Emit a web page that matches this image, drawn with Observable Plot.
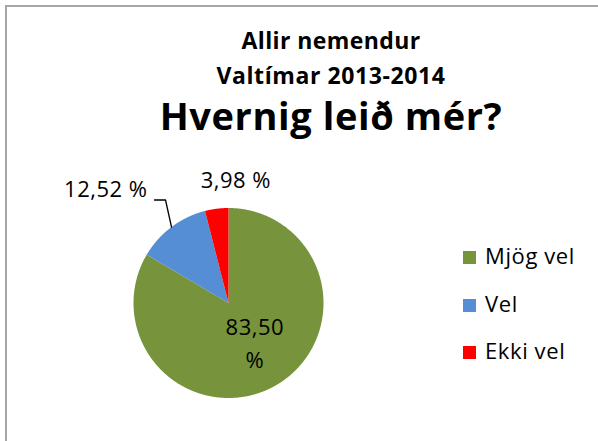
<!DOCTYPE html>
<html><head><meta charset="utf-8">
<script src="https://cdn.jsdelivr.net/npm/d3@7"></script>
<script src="https://cdn.jsdelivr.net/npm/@observablehq/plot@0.6"></script>
<style>
body{margin:0;background:#fff;font-family:"Open Sans",sans-serif;}
#wrap{position:relative;width:598px;height:441px;overflow:hidden;background:#fff;}
#frame{position:absolute;left:5px;top:5px;width:800px;height:800px;border-top:2px solid #a6a6a6;border-left:2px solid #a6a6a6;}
#chart{position:absolute;left:0;top:0;}
.t{position:absolute;left:0;width:662px;text-align:center;font-weight:bold;color:#000;white-space:nowrap;}
#t1{top:26px;font-size:23px;line-height:28px;letter-spacing:0.4px;}
#t2{top:61px;font-size:23px;line-height:28px;letter-spacing:0.6px;}
#t3{top:93px;font-size:38px;line-height:44px;letter-spacing:0.6px;}
#legend{position:absolute;left:463px;top:0;}
.li{position:absolute;left:0;white-space:nowrap;font-size:22px;line-height:24px;color:#000;letter-spacing:0.6px;}
.sw{display:inline-block;width:13px;height:13px;margin-right:9px;vertical-align:0px;}
</style></head>
<body>
<div id="wrap">
  <div id="frame"></div>
  <div id="chart"></div>
  <div class="t" id="t1"></div>
  <div class="t" id="t2"></div>
  <div class="t" id="t3"></div>
  <div id="legend"></div>
</div>
<script>
const titleLines = ["Allir nemendur", "Valtímar 2013-2014", "Hvernig leið mér?"];
const categories = ["Mjög vel", "Vel", "Ekki vel"];
const values = [83.50, 12.52, 3.98];
const labels = ["83,50 %", "12,52 %", "3,98 %"];
const colors = ["#77933C", "#558ED5", "#FF0000"];

document.getElementById("t1").textContent = titleLines[0];
document.getElementById("t2").textContent = titleLines[1];
document.getElementById("t3").textContent = titleLines[2];

// slices, clockwise from 12 o'clock
const total = d3.sum(values);
let acc = 0;
const slices = categories.map((c, i) => {
  const a0 = acc / total * 2 * Math.PI;
  acc += values[i];
  const a1 = acc / total * 2 * Math.PI;
  return {cat: c, a0, a1, mid: (a0 + a1) / 2, label: labels[i]};
});
const pts = [];
for (const s of slices) {
  pts.push({cat: s.cat, x: 0, y: 0});
  const n = Math.max(2, Math.ceil((s.a1 - s.a0) / (Math.PI / 720)));
  for (let k = 0; k <= n; k++) {
    const a = s.a0 + (s.a1 - s.a0) * k / n;
    pts.push({cat: s.cat, x: Math.sin(a), y: Math.cos(a)});
  }
  pts.push({cat: s.cat, x: 0, y: 0});
}
const R = 95; // pixel radius, used to convert label offsets
const edge = s => ({x: Math.sin(s.mid), y: Math.cos(s.mid)});

const inside = slices.filter((s, i) => i === 0).map(s => ({x: 0.56 * Math.sin(s.mid), y: 0.56 * Math.cos(s.mid) + 8 / R, text: s.label}));
const eb = edge(slices[1]);
const leader = [
  {x: eb.x, y: eb.y},
  {x: eb.x - 6 / R, y: eb.y + 27 / R},
  {x: eb.x - 17 / R, y: eb.y + 27 / R}
];
const blueLabel = [{x: eb.x - 24 / R, y: eb.y + 37 / R, text: slices[1].label}];
const er = edge(slices[2]);
const redLabel = [{x: er.x - 16 / R, y: er.y + 28 / R, text: slices[2].label}];

const chart = Plot.plot({
  width: 598, height: 441,
  margin: 0,
  x: {domain: [-1, 1], range: [133, 323], axis: null},
  y: {domain: [-1, 1], range: [397.5, 207.5], axis: null},
  color: {domain: categories, range: colors},
  style: {fontFamily: "'Open Sans', sans-serif", background: "transparent", letterSpacing: "0.5px"},
  marks: [
    Plot.line(pts, {x: "x", y: "y", z: "cat", fill: "cat", stroke: "none", curve: "linear"}),
    Plot.line(leader, {x: "x", y: "y", stroke: "black", strokeWidth: 1.3}),
    Plot.text(inside, {x: "x", y: "y", text: "text", fontSize: 22, lineWidth: 3.2, lineHeight: 1.5, fill: "black"}),
    Plot.text(blueLabel, {x: "x", y: "y", text: "text", fontSize: 22, textAnchor: "end", fill: "black"}),
    Plot.text(redLabel, {x: "x", y: "y", text: "text", fontSize: 22, textAnchor: "start", fill: "black"})
  ]
});
document.getElementById("chart").appendChild(chart);

const legendY = [255, 303, 350];
const lg = document.getElementById("legend");
categories.forEach((c, i) => {
  const d = document.createElement("div");
  d.className = "li";
  d.style.top = (legendY[i] - 12) + "px";
  const sw = document.createElement("span");
  sw.className = "sw";
  sw.style.background = colors[i];
  d.appendChild(sw);
  d.appendChild(document.createTextNode(c));
  lg.appendChild(d);
});
</script>
</body></html>
